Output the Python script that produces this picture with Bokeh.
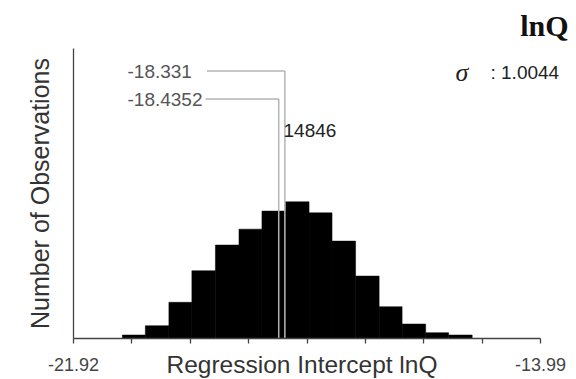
from bokeh.plotting import figure
from bokeh.models import Range1d, FixedTicker, Label, Title
from bokeh.embed import file_html
from bokeh.resources import INLINE

# ---------------- data ----------------
bin_edges = [-21.09, -20.70, -20.30, -19.91, -19.51, -19.11, -18.72, -18.32,
             -17.92, -17.53, -17.13, -16.73, -16.34, -15.94, -15.55, -15.15]
counts = [380, 1390, 3930, 7360, 10150, 11880, 13840, 14846,
          13650, 10580, 6780, 3450, 1570, 630, 380]
mean_value = -18.4352
median_value = -18.331
mean_text = "-18.4352"
median_text = "-18.331"
peak_text = "14846"
sigma_text = "1.0044"
title_text = "lnQ"
x_label = "Regression Intercept lnQ"
y_label = "Number of Observations"
x_min, x_max = -21.92, -13.99
x_ticks = [-21.92, -20.92875, -19.9375, -18.94625, -17.955,
           -16.96375, -15.9725, -14.98125, -13.99]
x_tick_labels = ["-21.92", "", "", "", "", "", "", "", "-13.99"]
y_max = 31500

# ---------------- layout ----------------
W, H = 576, 379
FL, AX_R, FT, FB = 73, 540, 48, 338      # axis spans FL..AX_R
FR = W                                   # frame extends to the right edge
X_PER_PX = (x_max - x_min) / (AX_R - FL)
FH = FB - FT


def px_x(px):
    return x_min + (px - FL) * X_PER_PX


def px_y(py):
    return y_max * (FB - py) / FH


p = figure(width=W, height=H, x_range=Range1d(x_min, px_x(FR)),
           y_range=Range1d(0, y_max), output_backend="svg",
           toolbar_location=None,
           min_border_left=FL, min_border_right=0,
           min_border_top=FT, min_border_bottom=H - FB)
p.outline_line_color = None
p.xgrid.visible = False
p.ygrid.visible = False
p.background_fill_color = "white"
p.border_fill_color = "white"

# histogram bars
p.quad(left=bin_edges[:-1], right=bin_edges[1:], top=counts, bottom=0,
       fill_color="black", line_color="black", line_width=0.5)

# statistic lines with leaders
line_col = "#b4b4b4"
y_med = px_y(70.5)
y_mean = px_y(98.5)
p.segment(x0=[median_value, mean_value], y0=[0, 0],
          x1=[median_value, mean_value], y1=[y_med, y_mean],
          line_color=line_col, line_width=1.5)
p.segment(x0=[px_x(206.5), px_x(205)], y0=[y_med, y_mean],
          x1=[median_value, mean_value], y1=[y_med, y_mean],
          line_color=line_col, line_width=1.5)

num_font = "Liberation Sans"
for txt, py in [(median_text, 70.5), (mean_text, 98.5)]:
    p.add_layout(Label(x=px_x(127), y=px_y(py), text=txt,
                       text_font=num_font, text_font_size="19px",
                       text_color="#555555", text_baseline="middle",
                       text_align="left"))

p.add_layout(Label(x=px_x(283), y=px_y(129.5), text=peak_text,
                   text_font=num_font, text_font_size="19px",
                   text_color="#222222", text_baseline="middle",
                   text_align="left"))

p.add_layout(Label(x=px_x(455), y=px_y(71.5), text="σ",
                   text_font="Liberation Serif", text_font_style="italic",
                   text_font_size="26px", text_color="#222222",
                   text_baseline="middle", text_align="left"))
p.add_layout(Label(x=px_x(490), y=px_y(71.5), text=": " + sigma_text,
                   text_font=num_font, text_font_size="19px",
                   text_color="#222222", text_baseline="middle",
                   text_align="left"))

# chart title (top right)
t = Title(text=title_text, align="right", offset=8, vertical_align="top",
          text_font="Liberation Serif", text_font_style="bold",
          text_font_size="30px", text_color="#111111", standoff=10)
p.add_layout(t, "above")

# x axis title, drawn on the same row as the tick labels
xt = Title(text=x_label, align="left", offset=93, vertical_align="top",
           text_font="Liberation Sans", text_font_style="normal",
           text_font_size="24.5px", text_color="#333333", standoff=-45)
p.add_layout(xt, "below")

# axes
ax = p.xaxis[0]
ax.bounds = (x_min, x_max)
ax.ticker = FixedTicker(ticks=x_ticks)
ax.major_label_overrides = {t: l for t, l in zip(x_ticks, x_tick_labels)}
ax.major_tick_out = 5
ax.major_tick_in = 0
ax.minor_tick_out = 0
ax.minor_tick_in = 0
ax.axis_line_color = "#444444"
ax.axis_line_width = 1.3
ax.major_tick_line_color = "#444444"
ax.major_tick_line_width = 1.3
ax.major_label_text_font = num_font
ax.major_label_text_font_size = "18px"
ax.major_label_text_color = "#444444"
ax.major_label_standoff = 14

ay = p.yaxis[0]
ay.ticker = FixedTicker(ticks=[])
ay.major_tick_out = 0
ay.major_tick_in = 0
ay.minor_tick_out = 0
ay.minor_tick_in = 0
ay.axis_line_color = "#444444"
ay.axis_line_width = 1.3
ay.axis_label = y_label
ay.axis_label_text_font = "Liberation Sans"
ay.axis_label_text_font_size = "25px"
ay.axis_label_text_font_style = "normal"
ay.axis_label_text_color = "#333333"
ay.axis_label_standoff = 20

open("out.html", "w").write(file_html(p, INLINE))
